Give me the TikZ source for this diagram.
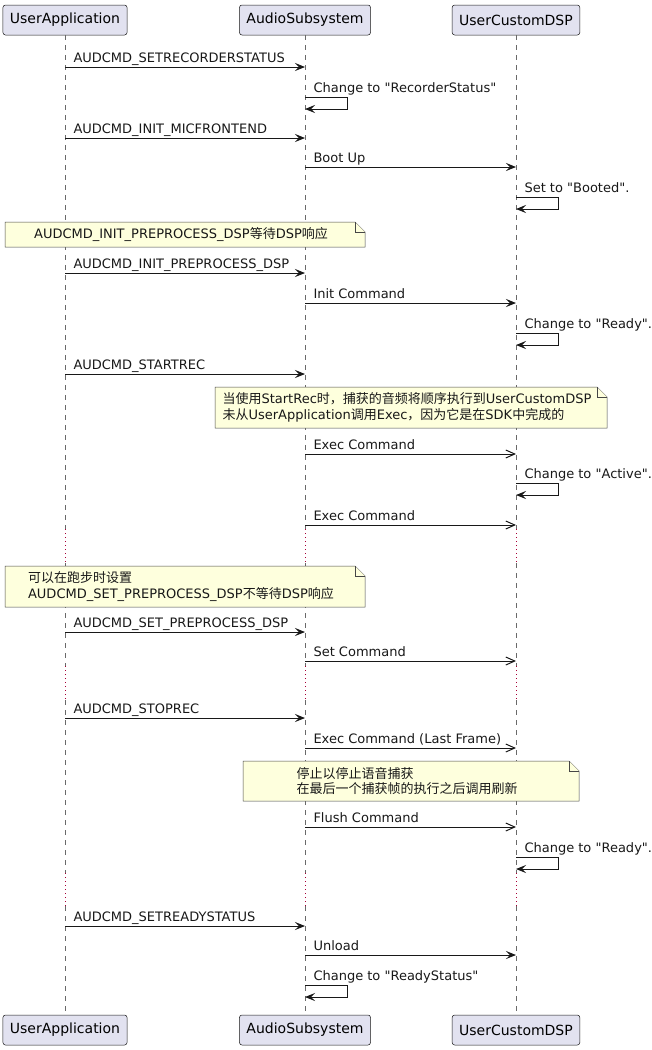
\documentclass[tikz,border=0pt]{standalone}
\usepackage{fontspec}
\setmainfont{DejaVu Sans}[Ligatures=TeXOff]
\newfontfamily\cjk{Noto Sans CJK SC}
\usetikzlibrary{positioning,arrows.meta}
\definecolor{partfill}{HTML}{E2E2F0}
\definecolor{linecol}{HTML}{181818}
\definecolor{notefill}{HTML}{FEFFDD}
\definecolor{delaycol}{HTML}{A80036}
\newcommand*{\notebox}[4]{%
  \filldraw[notebg] (#1,#2) -- (#3-10,#2) -- (#3,#2+10) -- (#3,#4) -- (#1,#4) -- cycle;
  \draw[notebg] (#3-10,#2) -- (#3-10,#2+10) -- (#3,#2+10);}

\begin{document}
\begin{tikzpicture}[x=1pt, y=-1pt,
  participant/.style={draw=linecol, fill=partfill, rounded corners=2.5pt, line width=0.5pt,
    minimum height=30pt, inner xsep=7pt, font=\fontsize{14}{16}\selectfont},
  lifeline/.style={draw=linecol!65, line width=0.6pt, dash pattern=on 5pt off 5pt},
  delayline/.style={draw=delaycol, line width=1pt, dash pattern=on 1pt off 3pt},
  sync/.style={draw=linecol, line width=1pt, -{Stealth[length=10pt, width=8pt, inset=4pt]}},
  async/.style={draw=linecol, line width=1pt, -{Straight Barb[length=9pt, width=8pt]}},
  msglabel/.style={anchor=base west, xshift=8pt, yshift=5pt, inner sep=0pt, text=linecol,
    font=\fontsize{13}{15}\selectfont},
  notebg/.style={draw=linecol!80, fill=notefill, line width=0.5pt},
  notetext/.style={align=left, inner sep=0pt, text=linecol, font=\fontsize{13}{15.5}\selectfont}]
\useasboundingbox (0,0) rectangle (652,1050);

\node (app) [participant] at (65,20) {UserApplication};
\node (aud) [participant] at (305,20) {AudioSubsystem};
\node (dsp) [participant] at (516,20) {UserCustomDSP};
\node (b-app) [participant] at (65,1030) {UserApplication};
\node (b-aud) [participant] at (305,1030) {AudioSubsystem};
\node (b-dsp) [participant] at (516,1030) {UserCustomDSP};

\foreach \p in {app,aud,dsp} {
  \draw[lifeline] (\p.south) -- (\p |- 0,529);
  \draw[delayline] (\p |- 0,529) -- (\p |- 0,563);
  \draw[lifeline] (\p |- 0,563) -- (\p |- 0,666);
  \draw[delayline] (\p |- 0,666) -- (\p |- 0,700);
  \draw[lifeline] (\p |- 0,700) -- (\p |- 0,873);
  \draw[delayline] (\p |- 0,873) -- (\p |- 0,906);
  \draw[lifeline] (\p |- 0,906) -- (b-\p.north);
}

\draw[sync] (app |- 0,67) -- node (m1) [msglabel, pos=0] {AUDCMD\_SETRECORDERSTATUS} (aud |- 0,67);
\draw[sync] (aud |- 0,97) -- node (s1) [msglabel, pos=0] {Change to "RecorderStatus"} ++(42,0) -- ++(0,12) -- (aud |- 0,109);
\draw[sync] (app |- 0,138) -- node (m2) [msglabel, pos=0] {AUDCMD\_INIT\_MICFRONTEND} (aud |- 0,138);
\draw[sync] (aud |- 0,167) -- node (m3) [msglabel, pos=0] {Boot Up} (dsp |- 0,167);
\draw[sync] (dsp |- 0,197) -- node (s2) [msglabel, pos=0] {Set to "Booted".} ++(42,0) -- ++(0,12) -- (dsp |- 0,209);

\notebox{5}{222}{365}{247}
\node (n1) [notetext] at (181,234.5) {AUDCMD\_INIT\_PREPROCESS\_DSP{\cjk 等待}DSP{\cjk 响应}};

\draw[sync] (app |- 0,273) -- node (m4) [msglabel, pos=0] {AUDCMD\_INIT\_PREPROCESS\_DSP} (aud |- 0,273);
\draw[sync] (aud |- 0,303) -- node (m5) [msglabel, pos=0] {Init Command} (dsp |- 0,303);
\draw[sync] (dsp |- 0,333) -- node (s3) [msglabel, pos=0] {Change to "Ready".} ++(42,0) -- ++(0,12) -- (dsp |- 0,345);
\draw[sync] (app |- 0,374) -- node (m6) [msglabel, pos=0] {AUDCMD\_STARTREC} (aud |- 0,374);

\notebox{215}{387}{607}{428}
\node (n2) [notetext] at (407,407.5) {{\cjk 当使用}StartRec{\cjk 时，捕获的音频将顺序执行到}UserCustomDSP\\
  {\cjk 未从}UserApplication{\cjk 调用}Exec{\cjk ，因为它是在}SDK{\cjk 中完成的}};

\draw[async] (aud |- 0,454) -- node (m7) [msglabel, pos=0] {Exec Command} (dsp |- 0,454);
\draw[sync] (dsp |- 0,483) -- node (s4) [msglabel, pos=0] {Change to "Active".} ++(42,0) -- ++(0,12) -- (dsp |- 0,495);
\draw[async] (aud |- 0,525) -- node (m8) [msglabel, pos=0] {Exec Command} (dsp |- 0,525);

\notebox{5}{566}{365}{607}
\node (n3) [notetext] at (181,586.5) {{\cjk 可以在跑步时设置}\\
  AUDCMD\_SET\_PREPROCESS\_DSP{\cjk 不等待}DSP{\cjk 响应}};

\draw[sync] (app |- 0,632) -- node (m9) [msglabel, pos=0] {AUDCMD\_SET\_PREPROCESS\_DSP} (aud |- 0,632);
\draw[async] (aud |- 0,661) -- node (m10) [msglabel, pos=0] {Set Command} (dsp |- 0,661);
\draw[sync] (app |- 0,718) -- node (m11) [msglabel, pos=0] {AUDCMD\_STOPREC} (aud |- 0,718);
\draw[async] (aud |- 0,748) -- node (m12) [msglabel, pos=0] {Exec Command (Last Frame)} (dsp |- 0,748);

\notebox{243}{761}{579}{801}
\node (n4) [notetext] at (407,781) {{\cjk 停止以停止语音捕获}\\
  {\cjk 在最后一个捕获帧的执行之后调用刷新}};

\draw[async] (aud |- 0,827) -- node (m13) [msglabel, pos=0] {Flush Command} (dsp |- 0,827);
\draw[sync] (dsp |- 0,857) -- node (s5) [msglabel, pos=0] {Change to "Ready".} ++(42,0) -- ++(0,12) -- (dsp |- 0,869);
\draw[sync] (app |- 0,926) -- node (m14) [msglabel, pos=0] {AUDCMD\_SETREADYSTATUS} (aud |- 0,926);
\draw[sync] (aud |- 0,955) -- node (m15) [msglabel, pos=0] {Unload} (dsp |- 0,955);
\draw[sync] (aud |- 0,985) -- node (s6) [msglabel, pos=0] {Change to "ReadyStatus"} ++(42,0) -- ++(0,12) -- (aud |- 0,997);
\end{tikzpicture}
\end{document}
